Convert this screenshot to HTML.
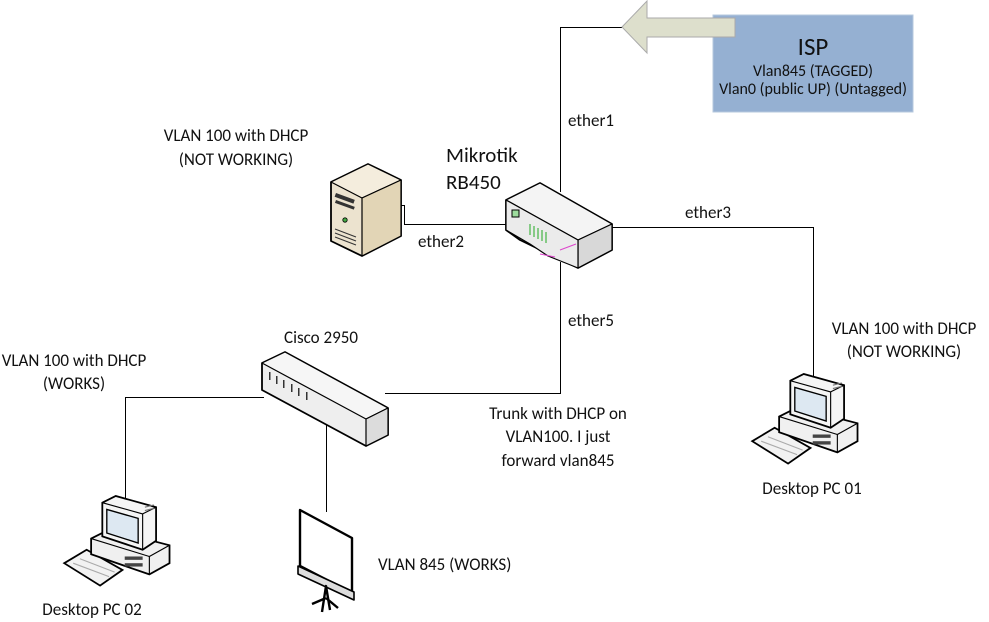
<!DOCTYPE html>
<html><head><meta charset="utf-8"><style>
html,body{margin:0;padding:0;background:#fff;}
svg{display:block;font-family:"Liberation Sans",sans-serif;}
text{font-family:Calibri,Carlito,"Liberation Sans",sans-serif;fill:#111;}
</style></head><body>
<svg width="989" height="622" viewBox="0 0 989 622" xmlns="http://www.w3.org/2000/svg">
<defs>
<g id="pc">
  <polygon points="-48,60 -28,48 4,66 -16,80" fill="#f2f2f2" stroke="#000" stroke-width="1.6"/>
  <line x1="-40" y1="60" x2="-8" y2="72" stroke="#aaa"/>
  <line x1="-34" y1="56" x2="-3" y2="68" stroke="#aaa"/>
  <polygon points="-24,38 -8,30 46,44 46,60 28,70 -24,52" fill="#f0f0f0" stroke="#000" stroke-width="1.6"/>
  <line x1="-24" y1="38" x2="28" y2="54" stroke="#000" stroke-width="1"/>
  <line x1="28" y1="54" x2="28" y2="70" stroke="#000" stroke-width="1"/>
  <line x1="28" y1="54" x2="46" y2="44" stroke="#000" stroke-width="1"/>
  <rect x="6" y="54" width="16" height="3" fill="#444"/>
  <rect x="6" y="60" width="16" height="3" fill="#444"/>
  <polygon points="-14,6 -2,0 34,10 34,40 22,48 -14,36" fill="#f5f5f5" stroke="#000" stroke-width="1.6"/>
  <line x1="-14" y1="6" x2="22" y2="16" stroke="#000"/>
  <line x1="22" y1="16" x2="22" y2="48" stroke="#000"/>
  <line x1="22" y1="16" x2="34" y2="10" stroke="#000"/>
  <polygon points="-10,12 18,20 18,42 -10,33" fill="#dde8f2" stroke="#000" stroke-width="1.2"/>
  <line x1="24" y1="10" x2="32" y2="8" stroke="#777"/>
  <line x1="24" y1="13" x2="32" y2="11" stroke="#777"/>
</g>
</defs>

<g stroke="#000" stroke-width="1" fill="none">
  <polyline points="622,27.5 560.5,27.5 560.5,192"/>
  <polyline points="612,227.5 813.5,227.5 813.5,376"/>
  <polyline points="400,205.5 404.5,205.5 404.5,224.5 522,224.5"/>
  <polyline points="560.5,262 560.5,393.5 385,393.5"/>
  <polyline points="264,397.5 125.5,397.5 125.5,498"/>
  <line x1="326.5" y1="420" x2="326.5" y2="512"/>
</g>

<rect x="713" y="15" width="200" height="97" fill="#95b0d2" stroke="#b6c8de"/>
<text x="813" y="55" font-size="25" text-anchor="middle">ISP</text>
<text x="813" y="76" font-size="16" text-anchor="middle">Vlan845 (TAGGED)</text>
<text x="813" y="94" font-size="16" text-anchor="middle">Vlan0 (public UP) (Untagged)</text>

<polygon points="622,27 647,1 647,18 735,18 735,37 647,37 647,53" fill="#dddfcc" stroke="#aaa" stroke-width="1"/>

<g stroke="#000" stroke-width="1.8" stroke-linejoin="round">
  <polygon points="506,200 540,183 612,224 612,250 578,268 520,240 506,230" fill="#e8e8e8"/>
  <polygon points="506,200 540,183 612,224 578,240" fill="#f4f4f4" stroke-width="1.2"/>
  <polygon points="578,240 612,224 612,250 578,268" fill="#d8d8d8" stroke-width="1.2"/>
  <polygon points="506,200 578,240 578,268 548,256 530,244 506,230" fill="#ebebeb" stroke-width="1.2"/>
</g>
<rect x="512" y="210" width="7" height="7" fill="#9ddc9d" stroke="#000" stroke-width="1"/>
<g stroke="#2a2" stroke-width="1">
  <line x1="530" y1="224" x2="530" y2="235"/><line x1="534" y1="226" x2="534" y2="237"/>
  <line x1="538" y1="228" x2="538" y2="239"/><line x1="542" y1="230" x2="542" y2="241"/>
  <line x1="546" y1="232" x2="546" y2="243"/>
</g>
<line x1="560" y1="250" x2="576" y2="244" stroke="#d4c" stroke-width="1"/>
<line x1="540" y1="254" x2="555" y2="257" stroke="#d4c" stroke-width="1"/>

<g stroke="#000" stroke-width="1.8" stroke-linejoin="round">
  <polygon points="331,182 368,164 401,180 401,236 362,256 331,241" fill="#ece3cf"/>
  <polygon points="331,182 368,164 401,180 362,198" fill="#f4eddd" stroke-width="1.2"/>
  <polygon points="362,198 401,180 401,236 362,256" fill="#e2d5b6" stroke-width="1.2"/>
</g>
<rect x="336" y="193" width="20" height="4" fill="#333" transform="rotate(20 336 193)"/>
<rect x="336" y="200" width="20" height="3" fill="#333" transform="rotate(20 336 200)"/>
<circle cx="345" cy="220" r="2.2" fill="#4a4" stroke="#000" stroke-width="0.8"/>
<g stroke="#333" stroke-width="1"><line x1="335" y1="229" x2="356" y2="237"/><line x1="335" y1="233" x2="356" y2="241"/><line x1="335" y1="237" x2="356" y2="245"/></g>

<g stroke="#000" stroke-width="1.8" stroke-linejoin="round">
  <polygon points="262,363 285,352 388,408 388,435 366,446 262,390" fill="#eee"/>
  <polygon points="262,363 285,352 388,408 366,419" fill="#f6f6f6" stroke-width="1.2"/>
  <polygon points="366,419 388,408 388,435 366,446" fill="#dcdcdc" stroke-width="1.2"/>
</g>
<g fill="#333">
  <rect x="269" y="372" width="1.5" height="8"/><rect x="276" y="376" width="1.5" height="8"/>
  <rect x="283" y="380" width="1.5" height="8"/><rect x="291" y="384" width="1.5" height="8"/>
  <rect x="298" y="388" width="1.5" height="8"/><rect x="306" y="392" width="1.5" height="8"/>
</g>

<use href="#pc" transform="translate(806,374) scale(1.12)"/>
<use href="#pc" transform="translate(118,496) scale(1.12)"/>

<g stroke="#000" stroke-linejoin="round">
  <polygon points="300,510 352,538 352,593 300,566" fill="#fff" stroke-width="2.4"/>
  <polygon points="298,566 354,592 354,600 298,574" fill="#ddd" stroke-width="1.6"/>
  <polyline points="322,612 326,586 330,610" fill="none" stroke-width="2.4"/>
  <line x1="326" y1="598" x2="312" y2="604" stroke-width="2.4"/>
  <line x1="326" y1="598" x2="338" y2="608" stroke-width="2.4"/>
</g>

<g font-size="17">
<text x="568" y="126">ether1</text>
<text x="685" y="218">ether3</text>
<text x="418" y="247">ether2</text>
<text x="568" y="326">ether5</text>
<text x="446" y="162" font-size="21">Mikrotik</text>
<text x="446" y="189" font-size="21">RB450</text>
<text x="236" y="141" text-anchor="middle">VLAN 100 with DHCP</text>
<text x="236" y="165" text-anchor="middle">(NOT WORKING)</text>
<text x="904" y="334" text-anchor="middle">VLAN 100 with DHCP</text>
<text x="904" y="357" text-anchor="middle">(NOT WORKING)</text>
<text x="74" y="366" text-anchor="middle">VLAN 100 with DHCP</text>
<text x="74" y="389" text-anchor="middle">(WORKS)</text>
<text x="284" y="343">Cisco 2950</text>
<text x="558" y="419" text-anchor="middle">Trunk with DHCP on</text>
<text x="558" y="442" text-anchor="middle">VLAN100. I just</text>
<text x="558" y="466" text-anchor="middle">forward vlan845</text>
<text x="812" y="494" text-anchor="middle">Desktop PC 01</text>
<text x="92" y="615" text-anchor="middle">Desktop PC 02</text>
<text x="378" y="570">VLAN 845 (WORKS)</text>
</g>
</svg>
</body></html>
